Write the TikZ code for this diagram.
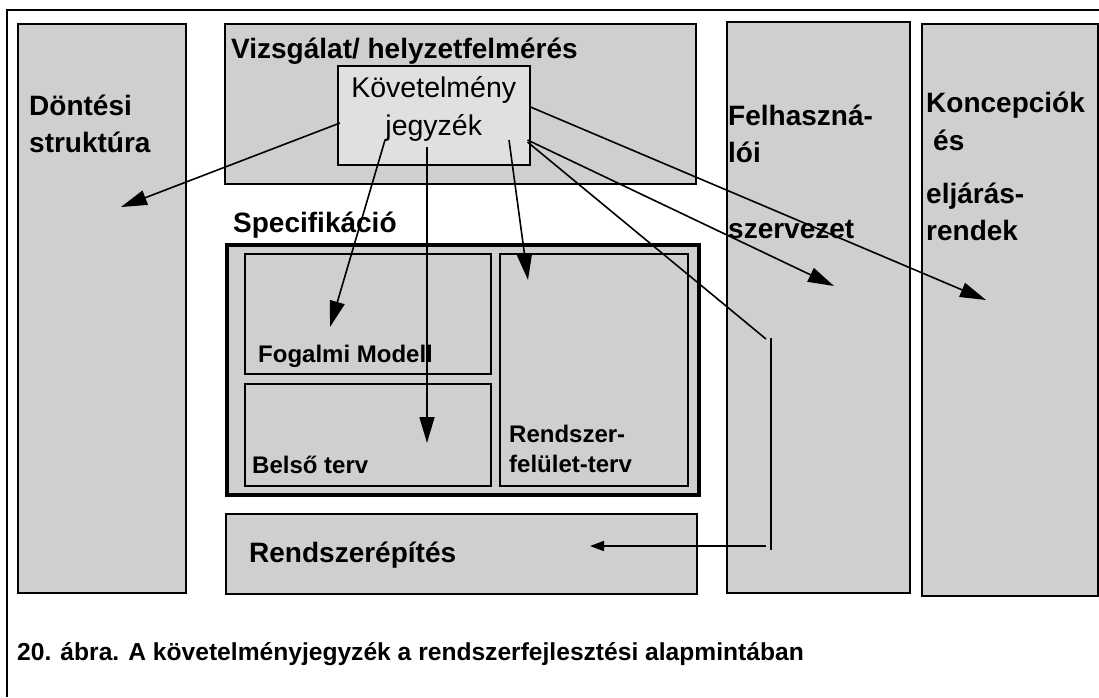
\documentclass[tikz,border=0pt]{standalone}
\usepackage{fontspec}
\setmainfont{Liberation Sans}
\usetikzlibrary{positioning}
\usetikzlibrary{arrows.meta}
\usetikzlibrary{calc}
\definecolor{boxgray}{gray}{0.81}
\definecolor{listgray}{gray}{0.88}
\tikzstyle{panel}=[rectangle,draw=black,fill=boxgray,line width=1.5pt,inner sep=0pt,anchor=north west]
\tikzstyle{subpanel}=[panel,line width=2pt]
\tikzstyle{specpanel}=[panel,line width=4pt]
\tikzstyle{listpanel}=[panel,fill=listgray]
\tikzstyle{boxtitle}=[anchor=base west,inner sep=0pt,font=\fontsize{28}{34}\selectfont\bfseries]
\tikzstyle{smalltitle}=[boxtitle,font=\fontsize{24}{29}\selectfont\bfseries]
\tikzstyle{listtext}=[anchor=base,inner sep=0pt,font=\fontsize{28.5}{34}\selectfont]
\tikzstyle{flow} = [draw,line width=1.6pt,-{Triangle[length=26pt,width=15pt]}]
\tikzstyle{shortflow} = [draw,line width=1.6pt,-{Triangle[length=14pt,width=10pt]}]
\tikzstyle{plainflow} = [draw,line width=1.6pt]

\begin{document}
\begin{tikzpicture}[x=1pt,y=-1pt]
\useasboundingbox (0,0) rectangle (1099,697);

% frame
\draw[line width=2.5pt] (7,697) -- (7,10) -- (1099,10);

% columns
\foreach \pos/\name/\w/\h in {{(17,23)/dontescol/168/569}, {(224,23)/vizsgbox/471/160}, {(726,21)/felhcol/183/571}, {(921,23)/konccol/176/572}, {(225,513)/rendszbox/471/80}}
    \node[panel, minimum width=\w pt, minimum height=\h pt] (\name) at \pos {};

% Specifikacio
\node[specpanel, minimum width=472pt, minimum height=250pt] (spec) at (225,243) {};
\foreach \pos/\name/\w/\h in {{(244,253)/fogalmi/246/120}, {(244,383)/belso/246/102}, {(499,253)/rfelulet/188/232}}
    \node[subpanel, minimum width=\w pt, minimum height=\h pt] (\name) at \pos {};

\node[listpanel, minimum width=192pt, minimum height=99pt] (kov) at (337,65) {};
\node[listtext] (kov1) at ($(kov.north)+(0,32)$) {Követelmény};
\node[listtext] (kov2) at ($(kov.north)+(0,70)$) {jegyzék};

% labels
\node[boxtitle] (vizsglabel) at (231,58) {Vizsgálat/ helyzetfelmérés};
\foreach \pos/\name/\text in {{(29,115)/dontesi/Döntési}, {(29,152)/struktura/struktúra}, {(233,232)/speclabel/Specifikáció}, {(249,562)/rendszlabel/Rendszerépítés}, {(728,125)/felh1/Felhaszná-}, {(728,162)/felh2/lói}, {(728,238)/felh3/szervezet}, {(926,112)/konc1/Koncepciók}, {(933,150)/konc2/és}, {(926,203)/konc3/eljárás-}, {(926,240)/konc4/rendek}}
    \node[boxtitle] (\name) at \pos {\text};

\foreach \pos/\name/\text in {{(258,362)/fogalmilabel/Fogalmi Modell}, {(252,473)/belsolabel/Belső terv}, {(509,442)/rfel1/Rendszer-}, {(509,472)/rfel2/felület-terv}}
    \node[smalltitle] (\name) at \pos {\text};

\node[boxtitle, font=\fontsize{24.6}{29}\selectfont\bfseries] (caption) at (17,660) {20. ábra. A követelményjegyzék a rendszerfejlesztési alapmintában};

% arrow ends
\coordinate (dontesend) at (121,207);
\coordinate (fogalmiend) at (330,327);
\coordinate (belsoend) at (427,443);
\coordinate (rfelend) at (528,280);
\coordinate (felhend) at (834,286);
\coordinate (koncend) at (986,300);
\coordinate (bracketend) at (766,339);
\coordinate (brackettop) at (771,338);
\coordinate (bracketbottom) at (771,550);
\coordinate (rendszstart) at (766,546);
\coordinate (rendszend) at (590,546);

% Connect the list with the other parts
\path[flow] ($(kov.north west)+(3,58)$) -- (dontesend);
\path[flow] ($(kov.north west)+(48,75)$) -- (fogalmiend);
\path[flow] ($(kov.north west)+(90,82)$) -- (belsoend);
\path[flow] ($(kov.north west)+(172,75)$) -- (rfelend);
\path[flow] ($(kov.north east)+(0,42)$) -- (koncend);
\path[flow] ($(kov.north east)+(-3,75)$) -- (felhend);
\path[plainflow] ($(kov.north east)+(-3,77)$) -- (bracketend);
\path[plainflow] (brackettop) -- (bracketbottom);
\path[shortflow] (rendszstart) -- (rendszend);

\end{tikzpicture}
\end{document}
